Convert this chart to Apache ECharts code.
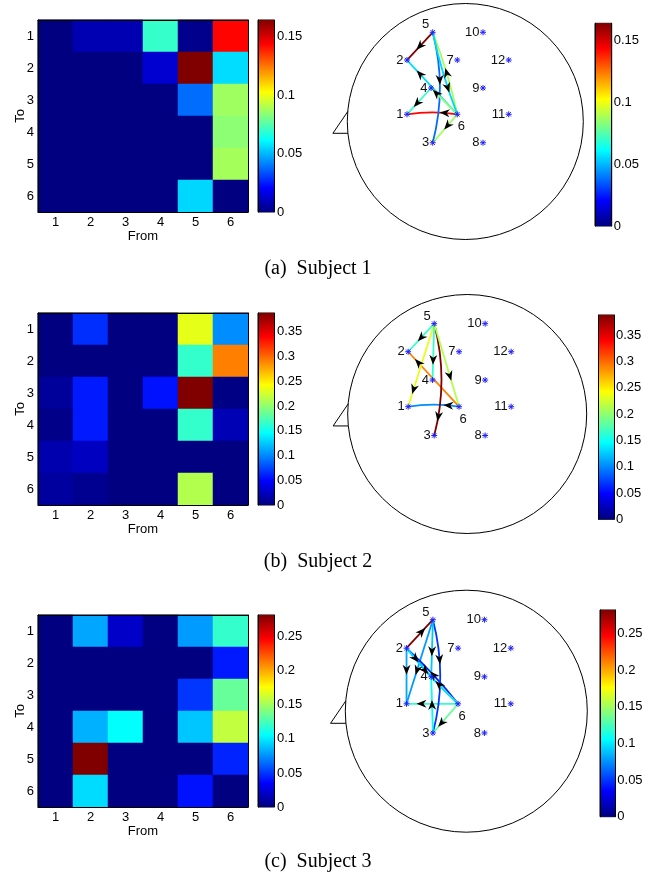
<!DOCTYPE html>
<html>
<head>
<meta charset="utf-8">
<script src="https://cdn.jsdelivr.net/npm/echarts@6/dist/echarts.min.js"></script>
<style>
  html, body { margin: 0; padding: 0; background: #fff; }
  #main { width: 655px; height: 877px; }
</style>
</head>
<body>
<div id="main"></div>
<script>
// ---- data ----
var fromLabels = ['1', '2', '3', '4', '5', '6'];
var toLabels = ['1', '2', '3', '4', '5', '6'];

// rows = To 1..6, columns = From 1..6
var subject1 = [
    [0, 0.008, 0.008, 0.070, 0.002, 0.143],
    [0, 0, 0, 0.013, 0.164, 0.056],
    [0, 0, 0, 0, 0.038, 0.087],
    [0, 0, 0, 0, 0, 0.084],
    [0, 0, 0, 0, 0, 0.088],
    [0, 0, 0, 0, 0.055, 0]
];
var subject2 = [
    [0, 0.066, 0, 0, 0.233, 0.102],
    [0, 0, 0, 0, 0.165, 0.291],
    [0.010, 0.058, 0, 0.055, 0.388, 0.002],
    [0.003, 0.058, 0, 0, 0.165, 0.020],
    [0.018, 0.025, 0, 0, 0, 0],
    [0.012, 0.006, 0, 0, 0.213, 0]
];
var subject3 = [
    [0, 0.081, 0.020, 0, 0.078, 0.120],
    [0, 0, 0, 0, 0, 0.042],
    [0, 0, 0, 0, 0.050, 0.134],
    [0, 0.084, 0.106, 0, 0.090, 0.159],
    [0, 0.282, 0, 0, 0, 0.045],
    [0, 0.096, 0, 0, 0.040, 0]
];
var max1 = 0.164, max2 = 0.388, max3 = 0.282;

// shown connections [from, to]
var edges1 = [[5, 2], [6, 1], [6, 2], [4, 1], [5, 3], [6, 3], [6, 4], [6, 5], [5, 6]];
var edges2 = [[5, 2], [6, 2], [5, 1], [6, 1], [5, 3], [5, 4], [5, 6]];
var edges3 = [[2, 1], [5, 1], [6, 1], [6, 2], [5, 3], [6, 3], [2, 4], [3, 4], [5, 4], [6, 4], [2, 5], [2, 6]];

// electrode sites on the unit head, 1..12
var electrodes = [
    [-0.494, 0.061], [-0.494, 0.521], [-0.276, -0.180], [-0.290, 0.284],
    [-0.276, 0.756], [-0.068, 0.061], [-0.068, 0.521], [0.150, -0.180],
    [0.150, 0.284], [0.150, 0.756], [0.368, 0.061], [0.368, 0.521]
];
var electrodeNames = ['1', '2', '3', '4', '5', '6', '7', '8', '9', '10', '11', '12'];
var captions = ['(a)  Subject 1', '(b)  Subject 2', '(c)  Subject 3'];

// ---- styles ----
var SANS = 'Liberation Sans, Arial, sans-serif';
var SERIF = 'Liberation Serif, Times New Roman, serif';
var FS = 13;
var jetRGB = [[0, 0, 128], [0, 0, 255], [0, 128, 255], [0, 255, 255], [128, 255, 128],
    [255, 255, 0], [255, 128, 0], [255, 0, 0], [128, 0, 0]];
var jetHex = jetRGB.map(function (c) { return 'rgb(' + c.join(',') + ')'; });
var nose = [[-0.996, 0.085], [-1.122, -0.1], [-0.995, -0.1]];

// edge bending / arrow placement (t along edge from source)
var curves = [
    { '6-1': 0.08, '5-3': -0.13 },
    { '6-1': 0.08, '5-3': -0.13 },
    { '5-3': -0.13 }
];
var arrowAt = [
    { '6-2': 0.74, '6-1': 0.25, '6-4': 0.8, '5-6': 0.67, '6-3': 0.4, '4-1': 0.58, '5-3': 0.43 },
    { '6-2': 0.8, '5-1': 0.79, '5-4': 0.64, '5-3': 0.83, '5-6': 0.63, '6-1': 0.21 },
    { '2-5': 0.58, '2-1': 0.39, '5-4': 0.55, '5-3': 0.35, '2-4': 0.36, '2-6': 0.38, '6-4': 0.71, '6-1': 0.71, '6-3': 0.66, '5-1': 0.6 }
];

var layout = [
    { hmTop: 20, hmH: 192, head: [465.3, 121.5, 118], hcb: [595, 23.3, 16.7, 202.7], cap: 269 },
    { hmTop: 313, hmH: 192, head: [467.2, 414, 119.5], hcb: [598.7, 315, 15.3, 204.3], cap: 562 },
    { hmTop: 615, hmH: 192, head: [466.3, 711.2, 121], hcb: [600, 610, 15.3, 206.7], cap: 862 }
];

function jet(t) {
    t = Math.max(0, Math.min(1, t));
    var p = t * 8, i = Math.min(7, Math.floor(p)), f = p - i;
    var a = jetRGB[i], b = jetRGB[i + 1];
    return 'rgb(' + [0, 1, 2].map(function (k) { return Math.round(a[k] + (b[k] - a[k]) * f); }).join(',') + ')';
}

function jetGradient() {
    return new echarts.graphic.LinearGradient(0, 1, 0, 0, jetHex.map(function (c, i) {
        return { offset: i / 8, color: c };
    }));
}

var grid = [], xAxis = [], yAxis = [], series = [], visualMap = [], graphic = [];

function blackLine() { return { show: true, lineStyle: { color: '#000', width: 1 } }; }

function addColorbar(left, top, width, height, max, margin) {
    var g = grid.length;
    grid.push({ left: left, top: top, width: width, height: height, show: true, borderColor: '#000', borderWidth: 1 });
    var xi = xAxis.length;
    xAxis.push({ type: 'category', gridIndex: g, data: [''], show: false });
    var yi = yAxis.length;
    yAxis.push({
        type: 'value', gridIndex: g, position: 'right', min: 0, max: max, interval: 0.05, z: 5,
        axisLine: blackLine(),
        axisTick: { inside: true, length: 3, lineStyle: { color: '#000' } },
        axisLabel: { color: '#000', fontSize: FS, fontFamily: SANS, margin: margin, showMaxLabel: false },
        splitLine: { show: false }
    });
    yAxis.push({
        type: 'value', gridIndex: g, position: 'left', min: 0, max: max, interval: 0.05, z: 5,
        axisLine: blackLine(),
        axisTick: { inside: true, length: 3, lineStyle: { color: '#000' } },
        axisLabel: { show: false },
        splitLine: { show: false }
    });
    series.push({
        type: 'bar', xAxisIndex: xi, yAxisIndex: yi, data: [max], barWidth: '100%', silent: true,
        itemStyle: { color: jetGradient() }
    });
}

function addHeatmap(L, mat, max) {
    var g = grid.length;
    grid.push({ left: 38, top: L.hmTop, width: 210, height: L.hmH, show: true, borderColor: '#000', borderWidth: 1 });
    var xi = xAxis.length;
    xAxis.push({
        type: 'category', gridIndex: g, data: fromLabels, position: 'bottom', z: 5,
        axisLine: blackLine(),
        axisTick: { inside: true, alignWithLabel: true, length: 4, lineStyle: { color: '#000' } },
        axisLabel: { color: '#000', fontSize: FS, fontFamily: SANS, margin: 4 },
        splitLine: { show: false },
        name: 'From', nameLocation: 'middle', nameGap: 18, nameMoveOverlap: false,
        nameTextStyle: { color: '#000', fontSize: FS, fontFamily: SANS }
    });
    xAxis.push({
        type: 'category', gridIndex: g, data: fromLabels, position: 'top', z: 5,
        axisLine: blackLine(),
        axisTick: { inside: true, alignWithLabel: true, length: 4, lineStyle: { color: '#000' } },
        axisLabel: { show: false }, splitLine: { show: false }
    });
    var yi = yAxis.length;
    yAxis.push({
        type: 'category', gridIndex: g, data: toLabels, inverse: true, position: 'left', z: 5,
        axisLine: blackLine(),
        axisTick: { inside: true, alignWithLabel: true, length: 4, lineStyle: { color: '#000' } },
        axisLabel: { color: '#000', fontSize: FS, fontFamily: SANS, margin: 4 },
        splitLine: { show: false },
        name: 'To', nameLocation: 'middle', nameGap: 11, nameRotate: 90, nameMoveOverlap: false,
        nameTextStyle: { color: '#000', fontSize: FS, fontFamily: SANS }
    });
    yAxis.push({
        type: 'category', gridIndex: g, data: toLabels, inverse: true, position: 'right', z: 5,
        axisLine: blackLine(),
        axisTick: { inside: true, alignWithLabel: true, length: 4, lineStyle: { color: '#000' } },
        axisLabel: { show: false }, splitLine: { show: false }
    });
    var data = [];
    mat.forEach(function (row, r) {
        row.forEach(function (v, c) { data.push([c, r, v]); });
    });
    visualMap.push({
        type: 'continuous', show: false, min: 0, max: max, dimension: 2,
        seriesIndex: series.length, inRange: { color: jetHex }
    });
    series.push({
        type: 'heatmap', xAxisIndex: xi, yAxisIndex: yi, data: data, silent: true,
        itemStyle: { borderWidth: 0 }, emphasis: { disabled: true }
    });
}

function addHead(L, k, mat, max, edges) {
    var cx = L.head[0], cy = L.head[1], r = L.head[2];
    var g = grid.length;
    grid.push({ left: cx - r, top: cy - r, width: 2 * r, height: 2 * r });
    var xi = xAxis.length;
    xAxis.push({ type: 'value', gridIndex: g, min: -1, max: 1, show: false });
    var yi = yAxis.length;
    yAxis.push({ type: 'value', gridIndex: g, min: -1, max: 1, show: false });

    // head outline + nose
    series.push({
        type: 'custom', xAxisIndex: xi, yAxisIndex: yi, data: [[0, 0]], silent: true, z: 1,
        renderItem: function (params, api) {
            var c = api.coord([0, 0]);
            var rad = api.size([1, 1])[0];
            return {
                type: 'group', children: [
                    { type: 'circle', shape: { cx: c[0], cy: c[1], r: rad }, style: { fill: 'none', stroke: '#000', lineWidth: 1 } },
                    { type: 'polyline', shape: { points: nose.map(function (p) { return api.coord(p); }) }, style: { fill: 'none', stroke: '#000', lineWidth: 1 } }
                ]
            };
        }
    });

    // directed edges
    var edgeData = edges.map(function (e) { return [e[0], e[1], mat[e[1] - 1][e[0] - 1]]; });
    var has = {};
    edges.forEach(function (e) { has[e[0] + '-' + e[1]] = true; });
    series.push({
        type: 'custom', xAxisIndex: xi, yAxisIndex: yi, data: edgeData, silent: true, z: 2,
        renderItem: function (params, api) {
            var a = api.value(0), b = api.value(1), v = api.value(2);
            var key = a + '-' + b;
            var p0 = api.coord(electrodes[a - 1]), p1 = api.coord(electrodes[b - 1]);
            var dx = p1[0] - p0[0], dy = p1[1] - p0[1];
            var len = Math.sqrt(dx * dx + dy * dy);
            var nx = -dy / len, ny = dx / len;
            var cv = curves[k][key];
            if (cv === undefined) cv = has[b + '-' + a] ? 0.04 : 0;
            var qx = (p0[0] + p1[0]) / 2 + nx * cv * len;
            var qy = (p0[1] + p1[1]) / 2 + ny * cv * len;
            var t = arrowAt[k][key] || 0.5, u = 1 - t;
            var px = u * u * p0[0] + 2 * u * t * qx + t * t * p1[0];
            var py = u * u * p0[1] + 2 * u * t * qy + t * t * p1[1];
            var tx = 2 * u * (qx - p0[0]) + 2 * t * (p1[0] - qx);
            var ty = 2 * u * (qy - p0[1]) + 2 * t * (p1[1] - qy);
            var tl = Math.sqrt(tx * tx + ty * ty);
            var ex = tx / tl, ey = ty / tl, fx = -ey, fy = ex;
            var AL = 10, AW = 8;
            var pts = [
                [px + ex * AL / 2, py + ey * AL / 2],
                [px - ex * AL / 2 + fx * AW / 2, py - ey * AL / 2 + fy * AW / 2],
                [px - ex * AL * 0.2, py - ey * AL * 0.2],
                [px - ex * AL / 2 - fx * AW / 2, py - ey * AL / 2 - fy * AW / 2]
            ];
            return {
                type: 'group', children: [
                    {
                        type: 'bezierCurve', z2: 1,
                        shape: { x1: p0[0], y1: p0[1], x2: p1[0], y2: p1[1], cpx1: qx, cpy1: qy },
                        style: { fill: 'none', stroke: jet(v / max), lineWidth: 1.8 }
                    },
                    { type: 'polygon', z2: 10, shape: { points: pts }, style: { fill: '#000' } }
                ]
            };
        }
    });

    // electrodes and their numbers
    series.push({
        type: 'custom', xAxisIndex: xi, yAxisIndex: yi, silent: true, z: 3,
        data: electrodes.map(function (p, i) { return [p[0], p[1], i]; }),
        renderItem: function (params, api) {
            var p = api.coord([api.value(0), api.value(1)]);
            var i = api.value(2), name = electrodeNames[i];
            var s = 3, d = 2.2, st = { stroke: '#2020ff', lineWidth: 1 };
            var lx = p[0] - 3.5, ly = p[1], al = 'right';
            if (name === '5') { ly = p[1] - 7.5; }
            if (name === '6') { lx = p[0] + 0.5; ly = p[1] + 12.5; al = 'left'; }
            return {
                type: 'group', children: [
                    { type: 'line', shape: { x1: p[0] - s, y1: p[1], x2: p[0] + s, y2: p[1] }, style: st },
                    { type: 'line', shape: { x1: p[0], y1: p[1] - s, x2: p[0], y2: p[1] + s }, style: st },
                    { type: 'line', shape: { x1: p[0] - d, y1: p[1] - d, x2: p[0] + d, y2: p[1] + d }, style: st },
                    { type: 'line', shape: { x1: p[0] - d, y1: p[1] + d, x2: p[0] + d, y2: p[1] - d }, style: st },
                    {
                        type: 'text', x: lx, y: ly,
                        style: { text: name, fill: '#111', fontSize: FS, fontFamily: SANS, align: al, verticalAlign: 'middle' }
                    }
                ]
            };
        }
    });
}

var mats = [subject1, subject2, subject3];
var maxes = [max1, max2, max3];
var edgeSets = [edges1, edges2, edges3];

for (var k = 0; k < 3; k++) {
    var L = layout[k];
    addHeatmap(L, mats[k], maxes[k]);
    addColorbar(258, L.hmTop, 16, L.hmH, maxes[k], 3);
    addHead(L, k, mats[k], maxes[k], edgeSets[k]);
    addColorbar(L.hcb[0], L.hcb[1], L.hcb[2], L.hcb[3], maxes[k], 2);
    graphic.push({
        type: 'text', x: 318, y: L.cap,
        style: { text: captions[k], fill: '#000', fontSize: 20, fontFamily: SERIF, align: 'center', verticalAlign: 'middle' }
    });
}

var myChart = echarts.init(document.getElementById('main'));
myChart.setOption({
    animation: false,
    backgroundColor: '#fff',
    grid: grid,
    xAxis: xAxis,
    yAxis: yAxis,
    visualMap: visualMap,
    series: series,
    graphic: graphic
});
</script>
</body>
</html>
